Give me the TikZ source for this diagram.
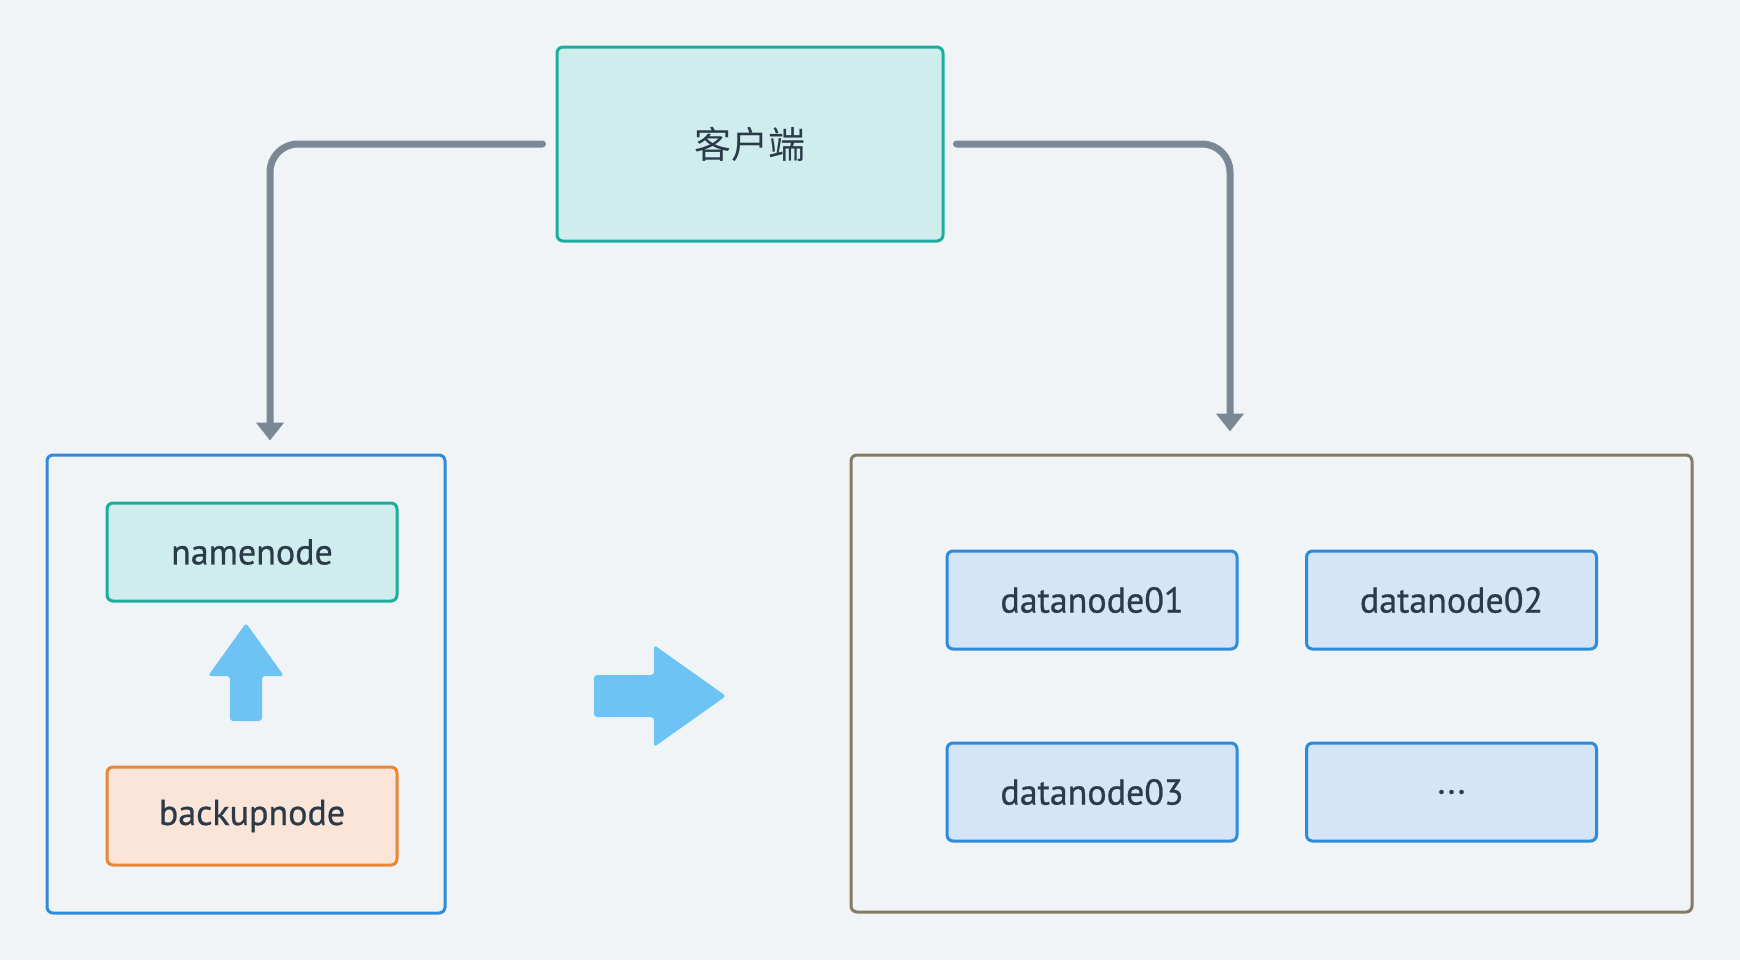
\documentclass[tikz,border=0pt]{standalone}
\usepackage{fontspec}
\setmainfont{PT Sans}
\newfontfamily\labelfont{PT Sans}[FakeBold=0.7]
\newfontfamily\cjk{Noto Sans CJK SC}
\usetikzlibrary{arrows.meta}

\definecolor{bgc}{HTML}{F0F4F7}
\definecolor{tealline}{HTML}{1BAE9E}
\definecolor{tealfill}{HTML}{CFEDEC}
\definecolor{orgline}{HTML}{E8863A}
\definecolor{orgfill}{HTML}{FBE5D8}
\definecolor{blueline}{HTML}{2E8ADB}
\definecolor{bluefill}{HTML}{D3E5F6}
\definecolor{brownline}{HTML}{857A64}
\definecolor{wirec}{HTML}{7A8896}
\definecolor{bigarrow}{HTML}{6DC4F4}
\definecolor{txt}{HTML}{2B3A48}

\tikzset{
  box/.style={draw, line width=1.5pt, rounded corners=3pt, inner sep=0pt,
    text=txt, font=\labelfont\fontsize{18}{20}\selectfont},
  tealbox/.style={box, draw=tealline, fill=tealfill},
  orgbox/.style={box, draw=orgline, fill=orgfill},
  databox/.style={box, draw=blueline, fill=bluefill, minimum width=145pt, minimum height=49pt},
  wire/.style={draw=wirec, line width=3.5pt, line cap=round, rounded corners=14pt,
    -{Triangle[width=13.5pt,length=9pt]}},
  blockarrow/.style={fill=bigarrow, rounded corners=1.5pt},
}

\begin{document}
\begin{tikzpicture}[x=0.5pt, y=-0.5pt]
  % canvas
  \fill[bgc] (0,0) rectangle (1740,960);
  \useasboundingbox (0,0) rectangle (1740,960);

  % client
  \node[tealbox, minimum width=193pt, minimum height=97pt,
        font=\cjk\fontsize{18.5}{20}\selectfont] (client) at (750,144) {客户端};

  % namenode group
  \node[box, draw=blueline, fill=none, minimum width=199pt, minimum height=229pt] (lbox) at (246,684) {};
  \node[tealbox, minimum width=145pt, minimum height=49pt] (nn) at (252,552) {namenode};
  \node[orgbox, minimum width=145pt, minimum height=49pt] (bn) at (252,816) {backupnode};

  % datanode group
  \node[box, draw=brownline, fill=none, minimum width=420.5pt, minimum height=228.5pt] (rbox) at (1271.5,683.5) {};
  \node[databox] (d1) at (1092,600) {datanode01};
  \node[databox] (d2) at (1451.5,600) {datanode02};
  \node[databox] (d3) at (1092,792) {datanode03};
  \node[databox] (d4) at (1451.5,792) {...};

  % client connectors
  \draw[wire, shorten <=6.5pt, shorten >=6.5pt]
    (client.west) -| ([xshift=12pt]lbox.north);
  \draw[wire, shorten <=6pt, shorten >=11pt]
    (client.east) -| ([xshift=-20.75pt]rbox.north);

  % backupnode to namenode
  \fill[blockarrow] (230,721) -- (230,676) -- (208,676) -- (246,623)
    -- (284,676) -- (262,676) -- (262,721) -- cycle;
  % namenode group to datanode group
  \fill[blockarrow] (594,675) -- (654,675) -- (654,645) -- (726,696)
    -- (654,747) -- (654,717) -- (594,717) -- cycle;
\end{tikzpicture}
\end{document}
